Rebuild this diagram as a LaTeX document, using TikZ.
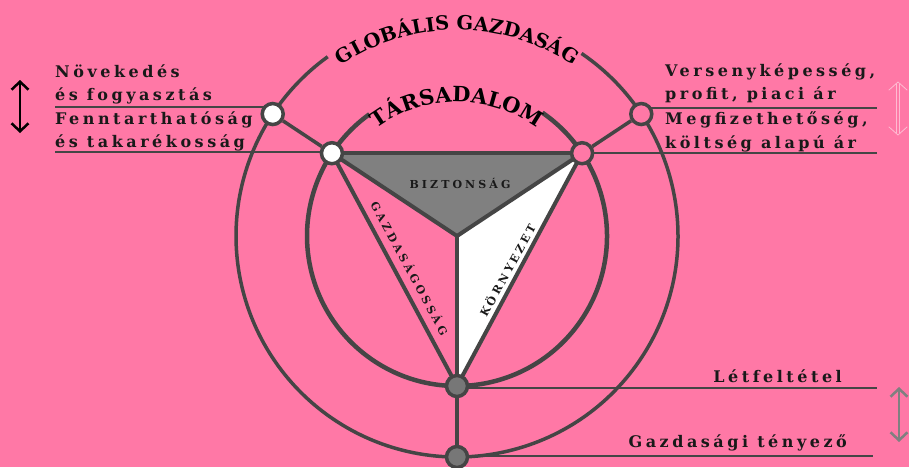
\documentclass[tikz,border=0pt]{standalone}
\usepackage{fontspec}
\setmainfont{DejaVu Serif}
\newfontfamily\lblfont[LetterSpace=22]{DejaVu Serif}
\newfontfamily\smfont[LetterSpace=28]{DejaVu Serif}
\newfontfamily\ttlfont{DejaVu Serif}
\usetikzlibrary{backgrounds,decorations.text,arrows.meta,calc}
\definecolor{bg}{HTML}{FF78A6}
\definecolor{dk}{HTML}{454545}
\definecolor{tri}{HTML}{808080}
\definecolor{ngray}{HTML}{777777}
\begin{document}
\begin{tikzpicture}[x=1pt,y=1pt,
  dot/.style={circle, draw=dk, line width=3.5pt, minimum size=21pt, inner sep=0pt},
  lbl/.style={font=\lblfont\bfseries\fontsize{16}{19}\selectfont, text=black!90, inner sep=0pt},
  sm/.style={font=\smfont\bfseries\fontsize{11}{13}\selectfont, text=black!90, inner sep=0pt},
  hline/.style={draw=dk, line width=2.5pt},
  triline/.style={draw=dk, line width=4pt, line cap=round, line join=round},
  radline/.style={draw=dk, line width=3.5pt},
  barbs/.style={{Straight Barb[length=8pt,width=17pt]}-{Straight Barb[length=8pt,width=17pt]}},
  ghost/.style={draw=bg!50!white, line width=0.8pt, line cap=round, line join=round}
]
\useasboundingbox (0,0) rectangle (909,467);
\coordinate (C) at (457,231);
% junction dots
\node[dot, fill=white] (iTL) at ([shift={(146.5:150)}]C) {};
\node[dot, fill=bg]    (iTR) at ([shift={(33.5:150)}]C) {};
\node[dot, fill=ngray] (iB)  at ([shift={(270:150)}]C) {};
\node[dot, fill=white] (oTL) at ([shift={(146.5:221)}]C) {};
\node[dot, fill=bg]    (oTR) at ([shift={(33.5:221)}]C) {};
\node[dot, fill=ngray] (oB)  at ([shift={(270:221)}]C) {};
% labels
\node[lbl, anchor=base west] (t1) at (55,390) {Növekedés};
\node[lbl, anchor=base west] (t2) at (55,367) {és fogyasztás};
\node[lbl, anchor=base west] (t3) at (55,343) {Fenntarthatóság};
\node[lbl, anchor=base west] (t4) at (55,320) {és takarékosság};
\node[lbl, anchor=base west] (r1) at (665,391) {Versenyképesség,};
\node[lbl, anchor=base west] (r2) at (665,368) {profit, piaci ár};
\node[lbl, anchor=base west] (r3) at (665,343) {Megfizethetőség,};
\node[lbl, anchor=base west] (r4) at (665,319) {költség alapú ár};
\node[lbl, anchor=base east] (b1) at (842,85) {Létfeltétel};
\node[lbl, anchor=base east] (b2) at (847,20) {Gazdasági tényező};
\node[sm] (bz) at (460,284) {BIZTONSÁG};
\node[sm, rotate=-61.7] (gz) at (410,199) {GAZDASÁGOSSÁG};
\node[sm, rotate=61.4] (kz) at (507,197) {KÖRNYEZET};
% free ends of the horizontal lines and arrows
\coordinate (l1) at (55,360);
\coordinate (l2) at (55,315);
\coordinate (q1) at (877,359);
\coordinate (q2) at (877,314);
\coordinate (q3) at (877,79);
\coordinate (q4) at (873,11);
\coordinate (a1) at (20,387);
\coordinate (a2) at (20,334);
\coordinate (a3) at (898,385);
\coordinate (a4) at (898,332);
\coordinate (a5) at (899,80);
\coordinate (a6) at (899,25);
\begin{scope}[on background layer]
  \fill[bg] (0,0) rectangle (909,467);
  % triangle regions
  \fill[tri] (iTL.center) -- (iTR.center) -- (C) -- cycle;
  \fill[white] (iTR.center) -- (C) -- (iB.center) -- cycle;
  % circles with gaps for the titles
  \draw[dk, line width=3.5pt] ([shift={(55.7:221)}]C) arc[start angle=55.7, end angle=-234.2, radius=221];
  \draw[dk, line width=4.5pt] ([shift={(55.3:150)}]C) arc[start angle=55.3, end angle=-234.3, radius=150];
  % titles along the arcs
  \path[decorate, decoration={text along path, text align=center,
    text={|\ttlfont\bfseries\fontsize{19.5}{20}\selectfont|GLOBÁLIS GAZDASÁG}}]
    ([shift={(130:206)}]C) arc[start angle=130, end angle=50, radius=206];
  \path[decorate, decoration={text along path, text align=center,
    text={|\ttlfont\bfseries\fontsize{21}{22}\selectfont|TÁRSADALOM}}]
    ([shift={(130:134)}]C) arc[start angle=130, end angle=50, radius=134];
  % triangle edges and spokes
  \draw[triline] (iTL) -- (iTR);
  \draw[triline] (iTL) -- (iB);
  \draw[triline] (iTR) -- (iB);
  \draw[triline] (C) -- (iTL);
  \draw[triline] (C) -- (iTR);
  \draw[triline] (C) -- (iB);
  % radial connectors
  \draw[radline] (oTL) -- (iTL);
  \draw[radline] (oTR) -- (iTR);
  \draw[radline] (iB) -- (oB);
  % horizontal lines
  \draw[hline] (l1) -- (l1 -| oTL.center);
  \draw[hline] (l2) -- (l2 -| iTL.center);
  \draw[hline] (oTR.center |- q1) -- (q1);
  \draw[hline] (iTR.center |- q2) -- (q2);
  \draw[hline] (iB.center |- q3) -- (q3);
  \draw[hline] (oB.center |- q4) -- (q4);
  % arrows
  \draw[barbs, line width=2.5pt, black] (a1) -- (a2);
  \draw[ghost] ([shift={(-1.5,-2)}]a3) -- ([shift={(-1.5,2)}]a4);
  \draw[ghost] ([shift={(1.5,-2)}]a3) -- ([shift={(1.5,2)}]a4);
  \draw[ghost] ([shift={(-9,-8)}]a3) -- (a3) -- ([shift={(9,-8)}]a3);
  \draw[ghost] ([shift={(-9,8)}]a4) -- (a4) -- ([shift={(9,8)}]a4);
  \draw[barbs, line width=2.5pt, tri] (a5) -- (a6);
\end{scope}
\end{tikzpicture}
\end{document}
